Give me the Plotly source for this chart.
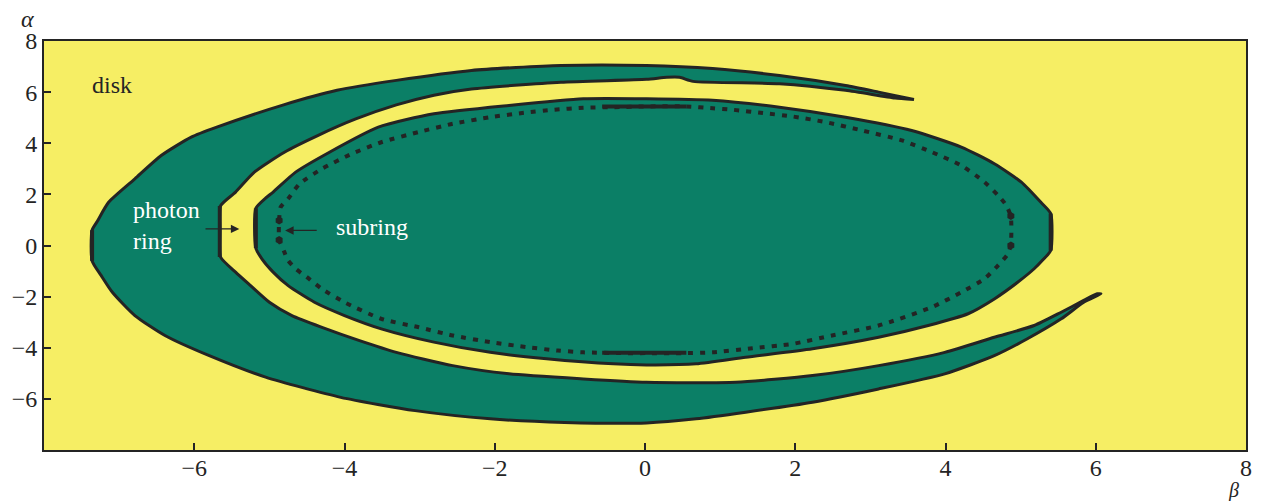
import plotly.graph_objects as go

# ---- data (celestial coordinates beta, alpha) ----
# outer lensed disk band: outer edge from upper tail tip round the left to lower tail tip
band_outer_beta = [3.58, 3.11, 2.67, 1.79, 0.90, 0.02, -1.12, -2.31, -3.31, -4.10, -4.80, -5.70,
                   -6.04, -6.44, -6.79, -7.14, -7.29, -7.36, -7.36, -7.24, -7.09, -6.79, -6.39,
                   -5.80, -5.05, -4.05, -3.06, -2.06, -1.07, 0.02, 0.68, 1.34, 2.23, 3.11, 3.99,
                   4.65, 5.09, 5.54, 5.84, 6.07]
band_outer_alpha = [5.71, 6.00, 6.26, 6.65, 6.92, 7.04, 7.04, 6.85, 6.46, 6.07, 5.51, 4.63,
                    4.24, 3.52, 2.61, 1.69, 0.95, 0.60, -0.60, -1.17, -1.83, -2.74, -3.52,
                    -4.31, -5.15, -5.94, -6.46, -6.78, -6.92, -6.94, -6.78, -6.52, -6.13, -5.61,
                    -5.02, -4.31, -3.65, -2.87, -2.22, -1.89]
# inner edge of the band, from lower tail tip back to upper tail tip
band_inner_beta = [6.02, 5.84, 5.54, 5.18, 4.65, 3.99, 3.11, 2.23, 1.21, 0.02, -0.82, -1.81,
                   -2.56, -3.31, -3.80, -4.30, -4.70, -5.00, -5.25, -5.45, -5.65, -5.66,
                   -5.65, -5.45, -5.20, -4.80, -4.35, -3.85, -3.31, -2.81, -2.31, -1.12, 0.02,
                   0.29, 0.46, 0.64, 1.79, 2.67, 3.33, 3.58]
band_inner_alpha = [-1.89, -2.15, -2.61, -3.13, -3.59, -4.18, -4.70, -5.09, -5.35, -5.35, -5.22,
                    -5.02, -4.70, -4.18, -3.72, -3.20, -2.74, -2.22, -1.57, -1.04, -0.45, 0.55,
                    1.55, 2.09, 2.87, 3.65, 4.31, 4.95, 5.50, 5.88, 6.12, 6.39, 6.50,
                    6.58, 6.58, 6.42, 6.33, 6.07, 5.77, 5.71]

# direct image of the disk (closed contour)
direct_beta = [0.02, 0.90, 1.79, 2.67, 3.55, 4.21, 4.65, 5.01, 5.27, 5.40, 5.40, 5.30, 5.18,
               4.96, 4.65, 4.30, 3.77, 3.11, 2.23, 1.34, 0.68, 0.02, -0.42, -1.31, -2.06,
               -2.81, -3.51, -4.00, -4.40, -4.75, -4.95, -5.10, -5.18, -5.18, -5.05, -4.95,
               -4.65, -4.20, -3.55, -2.81, -1.81, -0.82, 0.02]
direct_alpha = [5.74, 5.68, 5.41, 5.02, 4.50, 3.85, 3.20, 2.48, 1.69, 1.25, -0.20, -0.55, -0.91,
                -1.44, -2.09, -2.67, -3.13, -3.59, -4.04, -4.37, -4.63, -4.67, -4.63, -4.43,
                -4.18, -3.78, -3.26, -2.74, -2.22, -1.57, -1.04, -0.52, -0.10, 1.45, 1.85,
                2.09, 2.87, 3.65, 4.63, 5.15, 5.48, 5.74, 5.74]
# thick vertical pieces of the contours at the left and right turning points
ridge_beta = [[-5.18, -5.18], [-5.66, -5.66], [-7.36, -7.36], [5.40, 5.40]]
ridge_alpha = [[-0.10, 1.45], [-0.45, 1.55], [-0.60, 0.60], [-0.20, 1.25]]

# subring (broken higher-order image)
sub_beta = [0.02, 0.55, 0.90, 1.17, 1.57, 1.96, 2.40, 2.89, 3.42, 3.82, 4.21, 4.52, 4.70, 4.81,
            4.87, 4.87, 4.83, 4.70, 4.52, 4.21, 3.82, 3.11, 2.49, 1.96, 1.43, 0.90, 0.51, 0.02,
            -0.32, -0.82, -1.16, -1.56, -2.06, -2.56, -3.01, -3.51, -4.00, -4.30, -4.50,
            -4.65, -4.75, -4.80, -4.87, -4.87, -4.85, -4.75, -4.60, -4.30, -3.90, -3.51,
            -3.01, -2.56, -2.06, -1.61, -1.21, -0.82, -0.42, 0.02]
sub_alpha = [5.44, 5.44, 5.37, 5.31, 5.18, 5.05, 4.83, 4.50, 4.11, 3.65, 3.13, 2.48, 1.96, 1.57,
             1.11, 0.07, -0.33, -0.78, -1.30, -1.83, -2.41, -3.13, -3.52, -3.85, -4.02, -4.18,
             -4.21, -4.21, -4.21, -4.18, -4.11, -3.98, -3.78, -3.52, -3.20, -2.87, -2.22,
             -1.70, -1.24, -0.91, -0.59, -0.26, 0.26, 0.98, 1.50, 1.83, 2.41, 3.00, 3.59,
             4.04, 4.44, 4.76, 5.02, 5.19, 5.31, 5.39, 5.41, 5.44]
# solid subring arcs at top and bottom
sub_top_beta = [-0.57, 0.55]
sub_top_alpha = [5.44, 5.44]
sub_bot_beta = [-0.57, 0.55]
sub_bot_alpha = [-4.20, -4.20]
# large subring blobs near the left and right turning points
blob_beta = [-4.87, -4.87, 4.87, 4.87]
blob_alpha = [0.98, 0.22, 1.15, 0.00]

x_ticks = [-6, -4, -2, 0, 2, 4, 6, 8]
y_ticks = [-6, -4, -2, 0, 2, 4, 6, 8]

YELLOW = "#F6EE64"
GREEN = "#0B7F66"
INK = "#242424"
FONT = "Liberation Serif"

fig = go.Figure()

fig.add_trace(go.Scatter(
    x=band_outer_beta + band_inner_beta + [band_outer_beta[0]],
    y=band_outer_alpha + band_inner_alpha + [band_outer_alpha[0]],
    mode="lines", fill="toself", fillcolor=GREEN,
    line=dict(color=INK, width=3, shape="spline", smoothing=0.6), hoverinfo="skip"))

fig.add_trace(go.Scatter(
    x=direct_beta, y=direct_alpha, mode="lines", fill="toself", fillcolor=GREEN,
    line=dict(color=INK, width=3, shape="spline", smoothing=0.6), hoverinfo="skip"))

for rb, ra in zip(ridge_beta, ridge_alpha):
    fig.add_trace(go.Scatter(x=rb, y=ra, mode="lines",
                             line=dict(color=INK, width=4), hoverinfo="skip"))

fig.add_trace(go.Scatter(
    x=sub_beta, y=sub_alpha, mode="lines",
    line=dict(color=INK, width=4, dash="5px,7px", shape="spline", smoothing=0.6),
    hoverinfo="skip"))
fig.add_trace(go.Scatter(
    x=sub_top_beta, y=sub_top_alpha, mode="lines",
    line=dict(color=INK, width=4), hoverinfo="skip"))
fig.add_trace(go.Scatter(
    x=sub_bot_beta, y=sub_bot_alpha, mode="lines",
    line=dict(color=INK, width=4), hoverinfo="skip"))
fig.add_trace(go.Scatter(
    x=blob_beta, y=blob_alpha, mode="markers",
    marker=dict(color=INK, size=8, symbol="hexagon"), hoverinfo="skip"))

annotations = [
    dict(x=-7.09, y=6.28, text="disk", showarrow=False,
         font=dict(family=FONT, size=24, color=INK)),
    dict(x=-6.84, y=0.78, text="photon<br>ring", showarrow=False, xanchor="left",
         align="left", font=dict(family=FONT, size=24, color="white")),
    dict(x=-4.14, y=0.72, text="subring", showarrow=False, xanchor="left",
         font=dict(family=FONT, size=24, color="white")),
    dict(x=-5.40, y=0.65, ax=-5.87, ay=0.65, xref="x", yref="y", axref="x", ayref="y",
         text="", showarrow=True, arrowhead=2, arrowsize=1.3, arrowwidth=1.3,
         arrowcolor=INK),
    dict(x=-4.79, y=0.59, ax=-4.35, ay=0.59, xref="x", yref="y", axref="x", ayref="y",
         text="", showarrow=True, arrowhead=2, arrowsize=1.3, arrowwidth=1.3,
         arrowcolor=INK),
    dict(x=-0.014, y=1.055, xref="paper", yref="paper", xanchor="center", yanchor="middle",
         text="<i>α</i>", showarrow=False, font=dict(family=FONT, size=24, color=INK)),
    dict(x=0.990, y=-0.098, xref="paper", yref="paper", xanchor="center", yanchor="middle",
         text="<i>β</i>", showarrow=False, font=dict(family=FONT, size=20, color=INK)),
]

axis_common = dict(
    range=[-8, 8], showgrid=False, zeroline=False, ticks="inside", ticklen=7,
    tickwidth=1.5, tickcolor=INK, showline=True, linecolor=INK, linewidth=2,
    mirror=True, tickfont=dict(family=FONT, size=24, color=INK), fixedrange=True,
)

fig.update_layout(
    width=1262, height=501,
    margin=dict(l=44, r=10, t=41, b=51),
    paper_bgcolor="white", plot_bgcolor=YELLOW,
    showlegend=False,
    annotations=annotations,
    xaxis=dict(axis_common, tickvals=x_ticks, ticklabelstandoff=-5,
               ticktext=[str(v).replace("-", "\u2212") for v in x_ticks]),
    yaxis=dict(axis_common, tickvals=y_ticks,
               ticktext=[str(v).replace("-", "\u2212") for v in y_ticks]),
)

fig.write_html("out.html")
